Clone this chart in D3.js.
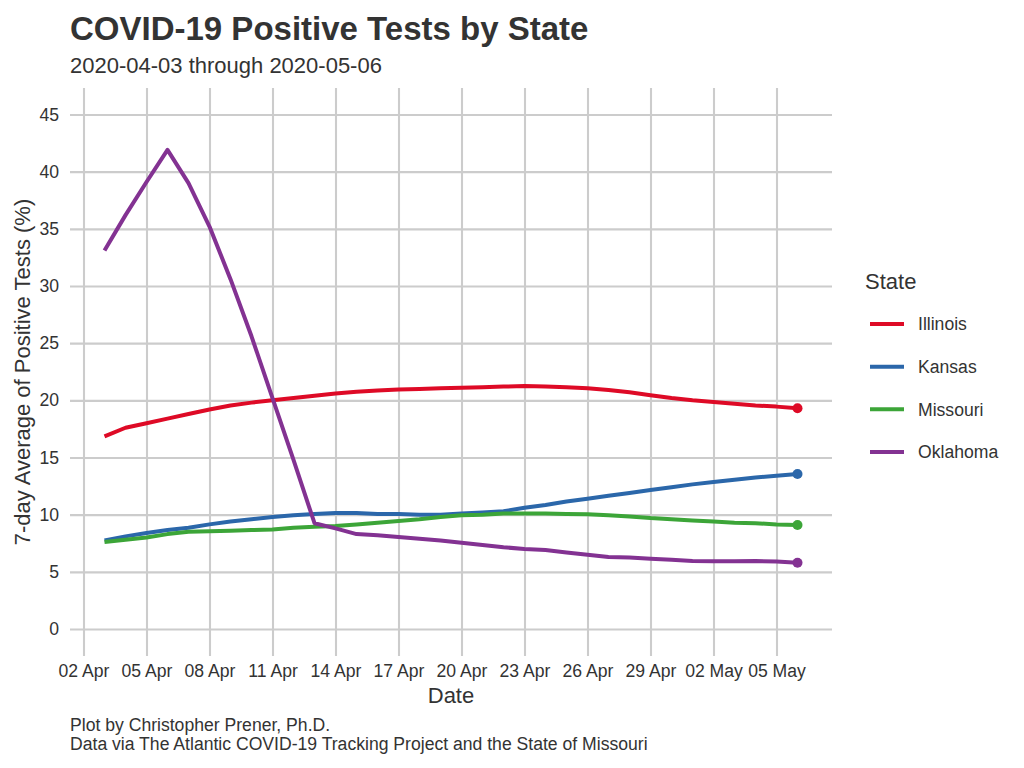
<!DOCTYPE html>
<html>
<head>
<meta charset="utf-8">
<script src="https://cdn.jsdelivr.net/npm/d3@7"></script>
<style>
  html, body { margin: 0; padding: 0; background: #fff; }
  text { font-family: "Liberation Sans", Arial, sans-serif; fill: #333; }
  .axis path { display: none; }
  .axis line { stroke: #cccccc; stroke-width: 2.1px; }
</style>
</head>
<body>
<script>
// one value per day, 2020-04-03 through 2020-05-06
var dates = ['2020-04-03','2020-04-04','2020-04-05','2020-04-06','2020-04-07','2020-04-08','2020-04-09',
  '2020-04-10','2020-04-11','2020-04-12','2020-04-13','2020-04-14','2020-04-15','2020-04-16','2020-04-17',
  '2020-04-18','2020-04-19','2020-04-20','2020-04-21','2020-04-22','2020-04-23','2020-04-24','2020-04-25',
  '2020-04-26','2020-04-27','2020-04-28','2020-04-29','2020-04-30','2020-05-01','2020-05-02','2020-05-03',
  '2020-05-04','2020-05-05','2020-05-06'];

var illinois = [16.85,17.6,18.0,18.4,18.8,19.2,19.55,19.8,20.0,20.2,20.4,20.6,20.75,20.85,20.95,21.0,21.05,
  21.1,21.15,21.2,21.25,21.2,21.15,21.05,20.9,20.7,20.45,20.2,20.0,19.85,19.7,19.55,19.45,19.3];
var kansas = [7.75,8.1,8.4,8.65,8.85,9.15,9.4,9.6,9.8,9.95,10.05,10.15,10.15,10.05,10.05,10.0,10.0,
  10.1,10.2,10.3,10.6,10.85,11.15,11.4,11.65,11.9,12.15,12.4,12.65,12.85,13.05,13.25,13.4,13.55];
var missouri = [7.6,7.8,8.0,8.3,8.5,8.55,8.6,8.65,8.7,8.85,8.95,9.0,9.15,9.3,9.45,9.6,9.8,
  9.95,10.0,10.1,10.1,10.1,10.05,10.03,9.95,9.85,9.7,9.6,9.5,9.4,9.3,9.25,9.15,9.1];
var oklahoma = [33.1,36.2,39.1,41.9,39.0,35.2,30.6,25.6,20.2,14.8,9.25,8.8,8.3,8.2,8.05,7.9,7.75,
  7.55,7.35,7.15,7.0,6.9,6.7,6.5,6.3,6.25,6.15,6.05,5.95,5.92,5.92,5.95,5.9,5.8];

var states = ['Illinois','Kansas','Missouri','Oklahoma'];
var stateValues = [illinois, kansas, missouri, oklahoma];
var stateColors = ['#de0a26','#2b67aa','#3ca538','#833292'];

var xTickDates = ['2020-04-02','2020-04-05','2020-04-08','2020-04-11','2020-04-14','2020-04-17','2020-04-20',
  '2020-04-23','2020-04-26','2020-04-29','2020-05-02','2020-05-05'];
var yTicks = [0,5,10,15,20,25,30,35,40,45];

var width = 1024, height = 768;
var panel = {left: 70, right: 832, top: 88, bottom: 656};

var svg = d3.select('body').append('svg')
    .attr('width', width)
    .attr('height', height)
    .style('display', 'block');

var x = d3.scaleUtc()
    .domain([new Date('2020-04-03'), new Date('2020-05-06')])
    .range([104.5, 797.5]);

var y = d3.scaleLinear()
    .domain([0, 45])
    .range([629, 114.5]);

// axes double as the grid: tick lines run across the whole panel
var xAxis = d3.axisBottom(x)
    .tickValues(xTickDates.map(d => new Date(d)))
    .tickFormat(d3.utcFormat('%d %b'))
    .tickSize(panel.bottom - panel.top)
    .tickPadding(9);

var yAxis = d3.axisLeft(y)
    .tickValues(yTicks)
    .tickSize(panel.right - panel.left)
    .tickPadding(11);

svg.append('g')
    .attr('class', 'axis')
    .attr('transform', 'translate(0,' + panel.top + ')')
    .call(xAxis)
    .selectAll('text')
    .style('font-size', '17.6px');

svg.append('g')
    .attr('class', 'axis')
    .attr('transform', 'translate(' + panel.right + ',0)')
    .call(yAxis)
    .selectAll('text')
    .style('font-size', '17.6px');

var line = d3.line()
    .x((d, i) => x(new Date(dates[i])))
    .y(d => y(d));

states.forEach((s, k) => {
  svg.append('path')
      .datum(stateValues[k])
      .attr('d', line)
      .attr('fill', 'none')
      .attr('stroke', stateColors[k])
      .attr('stroke-width', 4)
      .attr('stroke-linejoin', 'round');

  // dot on the last day only
  svg.append('circle')
      .attr('cx', x(new Date(dates[dates.length - 1])))
      .attr('cy', y(stateValues[k][dates.length - 1]))
      .attr('r', 5)
      .attr('fill', stateColors[k]);
});

// legend
var legendY = d3.scalePoint().domain(states).range([324, 452]);

svg.append('text')
    .attr('x', 865)
    .attr('y', 289)
    .style('font-size', '22px')
    .text('State');

var legend = svg.selectAll('.legend')
    .data(states)
    .enter().append('g')
    .attr('class', 'legend')
    .attr('transform', d => 'translate(0,' + legendY(d) + ')');

legend.append('line')
    .attr('x1', 870)
    .attr('x2', 904)
    .attr('stroke', (d, i) => stateColors[i])
    .attr('stroke-width', 4);

legend.append('text')
    .attr('x', 918)
    .attr('dy', '0.35em')
    .style('font-size', '17.6px')
    .text(d => d);

// titles
svg.append('text')
    .attr('x', 70)
    .attr('y', 40)
    .style('font-size', '33px')
    .style('font-weight', 'bold')
    .text('COVID-19 Positive Tests by State');

svg.append('text')
    .attr('x', 70)
    .attr('y', 73)
    .style('font-size', '22px')
    .text('2020-04-03 through 2020-05-06');

svg.append('text')
    .attr('x', 451)
    .attr('y', 703)
    .attr('text-anchor', 'middle')
    .style('font-size', '22px')
    .text('Date');

svg.append('text')
    .attr('transform', 'translate(30,372) rotate(-90)')
    .attr('text-anchor', 'middle')
    .style('font-size', '22px')
    .text('7-day Average of Positive Tests (%)');

svg.append('text')
    .attr('x', 70)
    .attr('y', 731)
    .style('font-size', '17.6px')
    .text('Plot by Christopher Prener, Ph.D.');

svg.append('text')
    .attr('x', 70)
    .attr('y', 750)
    .style('font-size', '17.6px')
    .text('Data via The Atlantic COVID-19 Tracking Project and the State of Missouri');
</script>
</body>
</html>
